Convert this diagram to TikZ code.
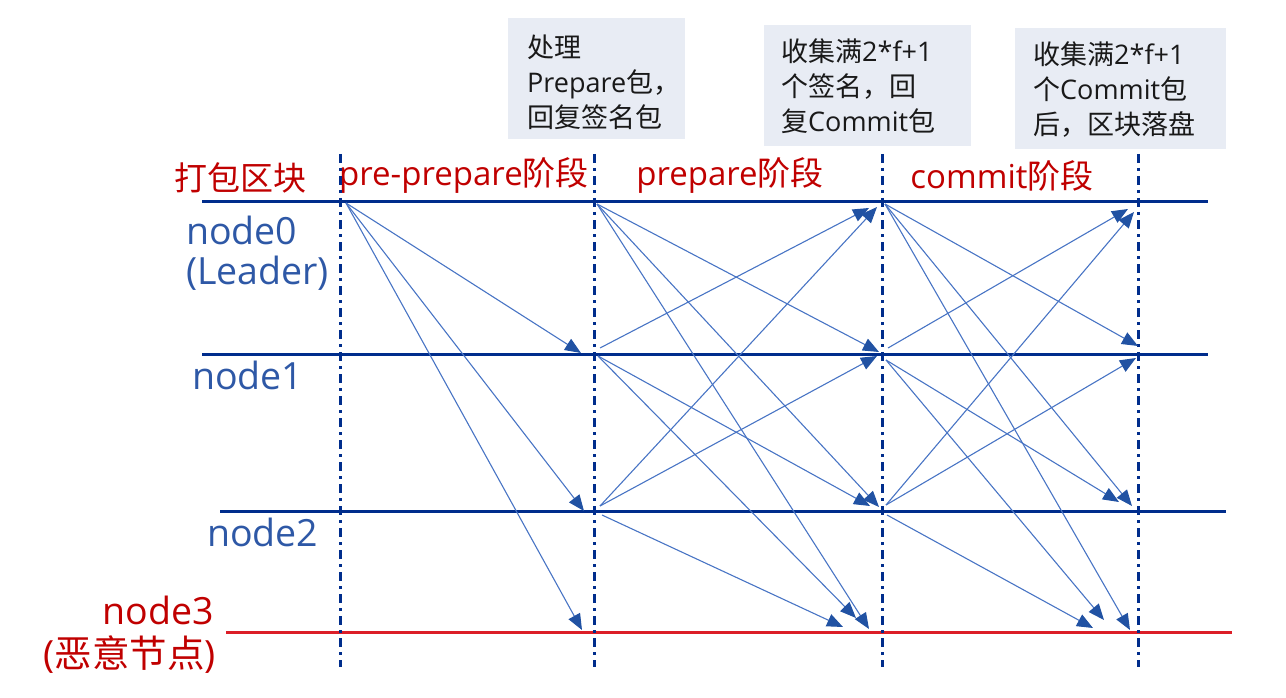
\documentclass[tikz,border=0pt]{standalone}
\usepackage{fontspec}
\setmainfont{Open Sans}
\newfontfamily\cjk{Noto Sans CJK SC}
\usetikzlibrary{arrows.meta}
\definecolor{hline}{RGB}{0,45,140}
\definecolor{redline}{RGB}{220,30,40}
\definecolor{redtxt}{RGB}{192,0,0}
\definecolor{bluetxt}{RGB}{46,88,166}
\definecolor{arr}{RGB}{72,116,196}
\definecolor{arrhead}{RGB}{33,82,163}
\definecolor{boxfill}{RGB}{232,236,244}
\definecolor{boxtxt}{RGB}{25,25,25}
\begin{document}
\begin{tikzpicture}[x=1pt,y=-1pt,
  lane/.style={draw=hline, line width=3pt},
  badlane/.style={draw=redline, line width=3pt},
  phase/.style={draw=hline, line width=3pt, dash pattern=on 9pt off 5pt on 3pt off 5pt},
  msg/.style={draw=arr, line width=1.1pt, -{Triangle[length=16pt,width=13pt,color=arrhead]}},
  redlab/.style={text=redtxt, font=\fontsize{33}{40}\selectfont, inner sep=0pt},
  bluelab/.style={text=bluetxt, font=\fontsize{37.5}{44}\selectfont, inner sep=0pt},
  notebox/.style={fill=boxfill, draw=none, inner sep=0pt},
  notetxt/.style={text=boxtxt, font=\fontsize{27}{35}\selectfont, align=left, inner sep=0pt, anchor=west}
]
\useasboundingbox (0,0) rectangle (1286,698);

% note boxes
\node[notebox, minimum width=177pt, minimum height=121pt] (box1) at (596.5,78.5) {};
\node[notetxt] (txt1) at (527,82) {{\cjk 处理}\\Prepare{\cjk 包，}\\{\cjk 回复签名包}};
\node[notebox, minimum width=207pt, minimum height=121pt] (box2) at (867.5,85.5) {};
\node[notetxt] (txt2) at (781,86) {{\cjk 收集满}2*f+1\\{\cjk 个签名，回}\\{\cjk 复}Commit{\cjk 包}};
\node[notebox, minimum width=211pt, minimum height=121pt] (box3) at (1120.5,88.5) {};
\node[notetxt] (txt3) at (1033,90) {{\cjk 收集满}2*f+1\\{\cjk 个}Commit{\cjk 包}\\{\cjk 后，区块落盘}};

% phase labels
\node[redlab] (lblpack) at (240,178) {\cjk 打包区块};
\node[redlab] (lblpp) at (464,176) {pre-prepare{\cjk 阶段}};
\node[redlab] (lblp) at (730,176) {prepare{\cjk 阶段}};
\node[redlab] (lblc) at (1002,176) {commit{\cjk 阶段}};

% node labels
\node[bluelab, anchor=west] (n0a) at (186,230) {node0};
\node[bluelab, anchor=west] (n0b) at (186,273) {(Leader)};
\node[bluelab, anchor=west] (n1) at (192,375) {node1};
\node[bluelab, anchor=west] (n2) at (207,532) {node2};
\node[redlab, font=\fontsize{37.5}{44}\selectfont, anchor=east] (n3a) at (214,610) {node3};
\node[redlab, font=\fontsize{37.5}{44}\selectfont, anchor=east] (n3b) at (216,655) {({\cjk 恶意节点})};

% lanes
\coordinate (l0a) at (202,202); \coordinate (l0b) at (1208,202);
\coordinate (l1a) at (202,354); \coordinate (l1b) at (1208,354);
\coordinate (l2a) at (220,511); \coordinate (l2b) at (1226,511);
\coordinate (l3a) at (226,632); \coordinate (l3b) at (1232,632);
\draw[lane] (l0a) -- (l0b);
\draw[lane] (l1a) -- (l1b);
\draw[lane] (l2a) -- (l2b);
\draw[badlane] (l3a) -- (l3b);

% phase separators
\foreach \x/\n in {340/a,594/b,882/c,1138/d}{
  \coordinate (v\n t) at (\x,154);
  \coordinate (v\n b) at (\x,667);
  \draw[phase] (v\n t) -- (v\n b);
}

% pre-prepare
\coordinate (a0) at (346,203);
\coordinate (a1e) at (581,353);
\coordinate (a2e) at (584,511);
\coordinate (a3e) at (582,630);
\draw[msg] (a0) -- (a1e);
\draw[msg] (a0) -- (a2e);
\draw[msg] (a0) -- (a3e);

% prepare
\coordinate (b0s) at (597,204);
\coordinate (b1u) at (600,348);
\coordinate (b1d) at (598,356);
\coordinate (b2u) at (600,506);
\coordinate (b2d) at (602,515);
\coordinate (b0e1) at (869,208);
\coordinate (b0e2) at (877,207);
\coordinate (b1e1) at (879,352);
\coordinate (b1e2) at (877,356);
\coordinate (b2e1) at (870,506);
\coordinate (b2e2) at (879,507);
\coordinate (b3e1) at (843,627);
\coordinate (b3e2) at (856,618);
\coordinate (b3e3) at (869,629);
\draw[msg] (b0s) -- (b1e1);
\draw[msg] (b0s) -- (b2e2);
\draw[msg] (b0s) -- (b3e3);
\draw[msg] (b1u) -- (b0e1);
\draw[msg] (b1d) -- (b2e1);
\draw[msg] (b1d) -- (b3e2);
\draw[msg] (b2u) -- (b0e2);
\draw[msg] (b2u) -- (b1e2);
\draw[msg] (b2d) -- (b3e1);

% commit
\coordinate (c0s) at (885,204);
\coordinate (c1u) at (888,348);
\coordinate (c1d) at (886,360);
\coordinate (c2u) at (886,505);
\coordinate (c2d) at (887,515);
\coordinate (c0e1) at (1128,209);
\coordinate (c0e2) at (1134,212);
\coordinate (c1e1) at (1138,346);
\coordinate (c1e2) at (1136,358);
\coordinate (c2e1) at (1119,502);
\coordinate (c2e2) at (1132,506);
\coordinate (c3e1) at (1093,628);
\coordinate (c3e2) at (1104,620);
\coordinate (c3e3) at (1130,630);
\draw[msg] (c0s) -- (c1e1);
\draw[msg] (c0s) -- (c2e2);
\draw[msg] (c0s) -- (c3e3);
\draw[msg] (c1u) -- (c0e1);
\draw[msg] (c1d) -- (c2e1);
\draw[msg] (c1d) -- (c3e2);
\draw[msg] (c2u) -- (c0e2);
\draw[msg] (c2u) -- (c1e2);
\draw[msg] (c2d) -- (c3e1);
\end{tikzpicture}
\end{document}
